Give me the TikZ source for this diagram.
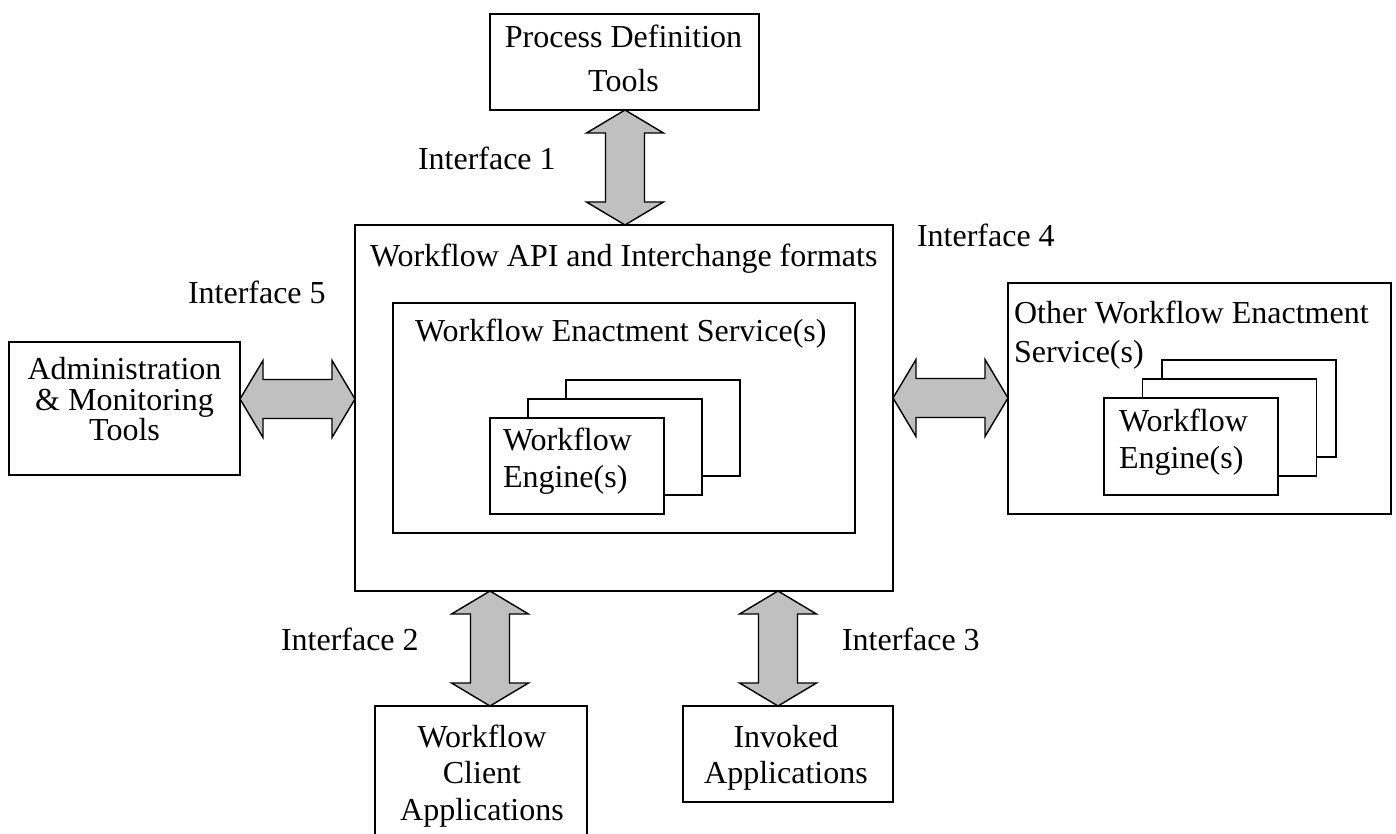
\documentclass[tikz,border=0pt]{standalone}
\usepackage{fontspec}
\setmainfont{Liberation Serif}
\usetikzlibrary{calc}
\definecolor{arrowgray}{RGB}{192,192,192}
\tikzset{
  box/.style={draw, line width=1.8pt, rectangle, inner sep=0pt, outer sep=0pt, fill=white},
  engbox/.style={box, minimum width=174pt, minimum height=96pt},
  txt/.style={inner sep=0pt, outer sep=0pt, font=\fontsize{32}{36}\selectfont},
  lbl/.style={txt, anchor=base west},
  ctr/.style={txt, anchor=base},
  fatarrow/.style={draw, line width=1.4pt, fill=arrowgray, line join=miter},
}
% vertical double block arrow from an upper point #1 to a lower point #2
\newcommand\vfat[2]{%
  \path[fatarrow] let \p1=#1, \p2=#2 in
    (\x1,\y1) -- (\x1+38.5pt,\y1-23pt) -- (\x1+19.5pt,\y1-23pt) --
    (\x1+19.5pt,\y2+23pt) -- (\x1+38.5pt,\y2+23pt) -- (\x1,\y2) --
    (\x1-38.5pt,\y2+23pt) -- (\x1-19.5pt,\y2+23pt) --
    (\x1-19.5pt,\y1-23pt) -- (\x1-38.5pt,\y1-23pt) -- cycle;}
% horizontal double block arrow from a left point #1 to a right point #2
\newcommand\hfat[2]{%
  \path[fatarrow] let \p1=#1, \p2=#2 in
    (\x1,\y1) -- (\x1+23pt,\y1+38.5pt) -- (\x1+23pt,\y1+19.5pt) --
    (\x2-23pt,\y1+19.5pt) -- (\x2-23pt,\y1+38.5pt) -- (\x2,\y1) --
    (\x2-23pt,\y1-38.5pt) -- (\x2-23pt,\y1-19.5pt) --
    (\x1+23pt,\y1-19.5pt) -- (\x1+23pt,\y1-38.5pt) -- cycle;}
\begin{document}
\begin{tikzpicture}[x=1pt, y=-1pt]
\useasboundingbox (0,0) rectangle (1396,834);
\clip (0,0) rectangle (1396,834);

% process definition tools
\node[box, minimum width=269pt, minimum height=96pt] (pdt) at (624.5,62) {};
\node[ctr] (pdtA) at (623.5,48) {Process Definition};
\node[ctr] (pdtB) at (623.5,92) {Tools};

% central enactment service
\node[box, minimum width=538pt, minimum height=366pt] (main) at (624,408) {};
\node[lbl] (apiT) at (370,266) {Workflow API and Interchange formats};
\node[box, minimum width=462pt, minimum height=230pt] (wes) at (624,418) {};
\node[lbl] (wesT) at (415,341) {Workflow Enactment Service(s)};
\node[engbox] (engC) at (653,428) {};
\node[engbox] (engB) at (615,447) {};
\node[engbox] (engA) at (577,466) {};
\node[lbl] (engA1) at (503,450) {Workflow};
\node[lbl] (engA2) at (503,487) {Engine(s)};

% administration and monitoring
\node[box, minimum width=231pt, minimum height=133pt] (admin) at (124.5,408.5) {};
\node[ctr] (admin1) at (124.5,379) {Administration};
\node[ctr] (admin2) at (124.5,410) {\& Monitoring};
\node[ctr] (admin3) at (124.5,440) {Tools};

% other enactment services
\node[box, minimum width=383pt, minimum height=231pt] (other) at (1199.5,398.5) {};
\node[lbl] (other1) at (1014,323) {Other Workflow Enactment};
\node[lbl] (other2) at (1014,362) {Service(s)};
\node[engbox, minimum height=97pt] (oengC) at (1249,408.5) {};
\node[engbox, minimum height=97pt] (oengB) at (1229.5,427.5) {};
\node[engbox, minimum height=97pt] (oengA) at (1191,446.5) {};
\node[lbl] (oengA1) at (1119,431) {Workflow};
\node[lbl] (oengA2) at (1119,468) {Engine(s)};

% client and invoked applications
\node[box, minimum width=212pt, minimum height=144pt] (wca) at (481,778) {};
\node[ctr] (wca1) at (482,747) {Workflow};
\node[ctr] (wca2) at (482,783) {Client};
\node[ctr] (wca3) at (482,820) {Applications};
\node[box, minimum width=210pt, minimum height=96pt] (inv) at (788,754) {};
\node[ctr] (inv1) at (786,747) {Invoked};
\node[ctr] (inv2) at (786,783) {Applications};

% interface labels
\node[lbl] (if1) at (418,170) {Interface 1};
\node[lbl] (if2) at (281,650) {Interface 2};
\node[lbl] (if3) at (842,650) {Interface 3};
\node[lbl] (if4) at (917,247) {Interface 4};
\node[lbl] (if5) at (188,303) {Interface 5};

% interface arrows
\coordinate (ax1) at (625,0);
\coordinate (ax2) at (490,0);
\coordinate (ax3) at (778,0);
\coordinate (ay4) at (0,398);
\coordinate (ay5) at (0,399);
\vfat{(ax1 |- pdt.south)}{(ax1 |- main.north)}
\vfat{(ax2 |- main.south)}{(ax2 |- wca.north)}
\vfat{(ax3 |- main.south)}{(ax3 |- inv.north)}
\hfat{(admin.east |- ay5)}{(main.west |- ay5)}
\hfat{(main.east |- ay4)}{(other.west |- ay4)}
\end{tikzpicture}
\end{document}
